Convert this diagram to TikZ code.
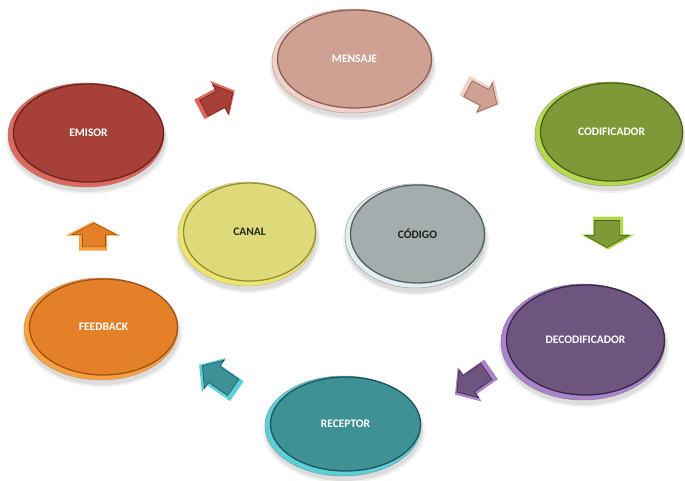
\documentclass[tikz,border=0pt]{standalone}
\usepackage{fontspec}
\setmainfont{Carlito}
\usetikzlibrary{shapes.geometric}

% colours: main / rim / dark / text
\definecolor{emmain}{RGB}{166,64,56}\definecolor{emrim}{RGB}{222,104,92}\definecolor{emdark}{RGB}{105,35,30}\colorlet{emtxt}{white}
\definecolor{memain}{RGB}{206,161,147}\definecolor{merim}{RGB}{240,210,200}\definecolor{medark}{RGB}{140,95,85}\colorlet{metxt}{white}
\definecolor{comain}{RGB}{126,153,55}\definecolor{corim}{RGB}{182,218,78}\definecolor{codark}{RGB}{75,95,28}\colorlet{cotxt}{white}
\definecolor{camain}{RGB}{222,218,122}\definecolor{carim}{RGB}{236,230,112}\definecolor{cadark}{RGB}{150,140,55}\definecolor{catxt}{RGB}{40,40,30}
\definecolor{cdmain}{RGB}{163,173,173}\definecolor{cdrim}{RGB}{225,238,242}\definecolor{cddark}{RGB}{85,95,95}\definecolor{cdtxt}{RGB}{30,30,30}
\definecolor{demain}{RGB}{110,85,128}\definecolor{derim}{RGB}{172,132,205}\definecolor{dedark}{RGB}{55,38,70}\colorlet{detxt}{white}
\definecolor{remain}{RGB}{62,145,148}\definecolor{rerim}{RGB}{92,208,218}\definecolor{redark}{RGB}{28,85,90}\colorlet{retxt}{white}
\definecolor{femain}{RGB}{228,128,40}\definecolor{ferim}{RGB}{246,162,62}\definecolor{fedark}{RGB}{160,80,20}\colorlet{fetxt}{white}

\tikzset{
  ellbase/.style={ellipse, inner sep=0pt},
  lbl/.style={font=\fontsize{11.5}{13}\selectfont\bfseries},
  pics/barrow/.style n args={5}{code={
    \fill[#5rim] (-#1/2,-#2) -- (#1/2-#4,-#2) -- (#1/2-#4,-#3) -- (#1/2,0) -- (#1/2-#4,#3) -- (#1/2-#4,#2) -- (-#1/2,#2) -- cycle;
    \filldraw[#5main, draw=#5dark, line width=0.6, shift={(1,1)}, scale=0.82]
      (-#1/2,-#2) -- (#1/2-#4,-#2) -- (#1/2-#4,-#3) -- (#1/2,0) -- (#1/2-#4,#3) -- (#1/2-#4,#2) -- (-#1/2,#2) -- cycle;
  }}
}

% #1 name, #2 cx, #3 cy, #4 rx, #5 ry, #6 colour prefix, #7 label
\newcommand\bubble[7]{%
  \node[ellbase, minimum width=2*#4+6, minimum height=2*#5+4, fill=black, fill opacity=0.06] at (#2+1,#3+5) {};
  \node[ellbase, minimum width=2*#4+2, minimum height=2*#5+2, fill=black, fill opacity=0.08] at (#2+1,#3+4) {};
  \node[ellbase, minimum width=2*#4, minimum height=2*#5, fill=#6rim, draw=#6dark!60, line width=0.5] (#1-rim) at (#2,#3) {};
  \node[ellbase, minimum width=2*#4-6, minimum height=2*#5-6, fill=#6main, draw=#6dark, line width=1.3, text=#6txt, lbl] (#1) at (#2+2.5,#3-2) {#7};
}

\begin{document}
\begin{tikzpicture}[x=1pt,y=-1pt]
\fill[white] (0,0) rectangle (685,481);
\useasboundingbox (0,0) rectangle (685,481);

\bubble{emisor}{86}{135}{78}{52}{em}{EMISOR}
\bubble{mensaje}{352}{61}{80}{52}{me}{MENSAJE}
\bubble{codificador}{609}{134}{74}{52}{co}{CODIFICADOR}
\bubble{canal}{247}{234}{69}{52}{ca}{CANAL}
\bubble{codigo}{415}{236}{70}{52}{cd}{CÓDIGO}
\bubble{decodificador}{583}{342}{82}{58}{de}{DECODIFICADOR}
\bubble{receptor}{343}{426}{78}{50}{re}{RECEPTOR}
\bubble{feedback}{101}{329}{77}{51}{fe}{FEEDBACK}

\pic[rotate=28] (a1) at (217,100) {barrow={40}{11}{20}{17}{em}};
\pic[rotate=-28] (a2) at (482,95) {barrow={40}{11}{20}{17}{me}};
\pic[rotate=-90] (a3) at (608,233) {barrow={33}{15}{27}{15}{co}};
\pic[rotate=215] (a4) at (473,382) {barrow={44}{12}{21}{18}{de}};
\pic[rotate=145] (a5) at (218,378) {barrow={46}{12}{21}{18}{re}};
\pic[rotate=90] (a6) at (93,236) {barrow={29}{14}{27}{14}{fe}};
\end{tikzpicture}
\end{document}
